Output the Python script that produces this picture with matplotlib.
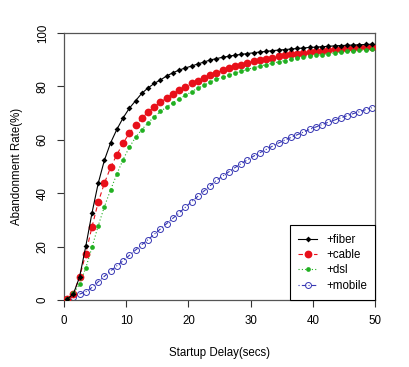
import matplotlib
matplotlib.use("Agg")
import matplotlib.pyplot as plt
import numpy as np

plt.rcParams['font.family'] = ['Liberation Sans', 'DejaVu Sans']

# startup delay (secs), sampled at half-second offsets
delay = np.arange(0.5, 50, 1.0)

fiber = [0.3, 2.2, 8.6, 20.1, 32.6, 43.7, 52.4, 58.9, 63.9, 68.2,
         71.8, 74.6, 77.4, 79.4, 81.1, 82.4, 83.9, 85.1, 86.1, 86.9,
         87.6, 88.4, 89.1, 89.9, 90.4, 90.9, 91.3, 91.7, 92.0, 92.3,
         92.6, 92.9, 93.1, 93.4, 93.6, 93.8, 94.0, 94.2, 94.4, 94.6,
         94.7, 94.9, 95.0, 95.2, 95.3, 95.4, 95.5, 95.6, 95.7, 95.8]
cable = [0.5, 2.2, 8.6, 17.3, 27.4, 36.6, 43.8, 49.7, 54.4, 58.8,
         62.4, 65.4, 68.1, 70.3, 72.3, 74.1, 75.6, 77.2, 78.6, 79.9,
         81.1, 82.2, 83.3, 84.3, 85.2, 86.0, 86.8, 87.5, 88.2, 88.8,
         89.4, 89.9, 90.4, 90.8, 91.2, 91.6, 92.0, 92.3, 92.6, 92.9,
         93.2, 93.4, 93.7, 93.9, 94.1, 94.3, 94.5, 94.6, 94.8, 94.9]
dsl = [0.2, 2.5, 5.9, 12.0, 19.7, 27.8, 35.0, 41.3, 47.2, 52.6,
       57.2, 60.9, 63.8, 66.3, 68.6, 70.6, 72.3, 73.9, 75.3, 76.6,
       78.0, 79.3, 80.4, 81.6, 82.6, 83.4, 84.2, 85.0, 85.7, 86.4,
       87.0, 87.6, 88.2, 88.7, 89.2, 89.7, 90.1, 90.5, 90.9, 91.3,
       91.6, 91.9, 92.3, 92.6, 92.8, 93.1, 93.3, 93.5, 93.7, 93.9]
mobile = [0.3, 1.2, 2.2, 3.1, 4.7, 6.8, 8.9, 10.9, 12.8, 14.7,
          16.7, 18.7, 20.7, 22.6, 24.6, 26.6, 28.6, 30.6, 32.6, 34.7,
          36.8, 38.8, 40.8, 42.8, 44.8, 46.4, 48.0, 49.6, 51.1, 52.5,
          53.9, 55.2, 56.4, 57.6, 58.8, 59.9, 60.9, 61.9, 62.9, 63.9,
          64.8, 65.7, 66.6, 67.4, 68.2, 69.0, 69.8, 70.5, 71.3, 72.0]

fs = 8.3
fig = plt.figure(figsize=(4.1, 3.67), dpi=100)
ax = fig.add_axes([64/410, 1 - 300/367, 311/410, 267/367])

ax.plot(delay, fiber, color='black', lw=0.8, ls='-', marker='D',
        ms=3.0, mew=0, label='+fiber', zorder=4)
ax.plot(delay, cable, color='#e8101a', lw=0.8, ls=(0, (4, 3)), marker='o',
        ms=5.6, mew=0, label='+cable', zorder=3)
ax.plot(delay, dsl, color='#22b022', lw=0.8, ls=(0, (1, 2)), marker='o',
        ms=3.4, mew=0, label='+dsl', zorder=3)
ax.plot(delay, mobile, color='#3838b4', lw=0.8, ls=(0, (1, 2, 4, 2)),
        marker='o', ms=4.3, mfc='none', mew=0.7, label='+mobile', zorder=2)

ax.set_xlim(0, 50)
ax.set_ylim(0, 100)
ax.set_xticks([0, 10, 20, 30, 40, 50])
ax.set_yticks([0, 20, 40, 60, 80, 100])
ax.tick_params(direction='out', length=5, width=0.8, labelsize=fs,
               pad=6, colors='#333333')
ax.tick_params(axis='x', labelcolor='black')
ax.tick_params(axis='y', labelcolor='black')
for lbl in ax.get_yticklabels():
    lbl.set_rotation(90)
    lbl.set_va('center')
for sp in ax.spines.values():
    sp.set_color('#555555')
    sp.set_linewidth(0.9)

ax.set_xlabel('Startup Delay(secs)', fontsize=fs, labelpad=14)
ax.set_ylabel('Abandonment Rate(%)', fontsize=fs, labelpad=10)

leg = ax.legend(loc='lower right', fontsize=fs, numpoints=1,
                borderaxespad=0, fancybox=False, framealpha=1,
                edgecolor='black', handlelength=1.6, handletextpad=0.8,
                labelspacing=0.3, borderpad=0.7)
leg.get_frame().set_linewidth(0.8)

fig.savefig('out.png', dpi=100)
